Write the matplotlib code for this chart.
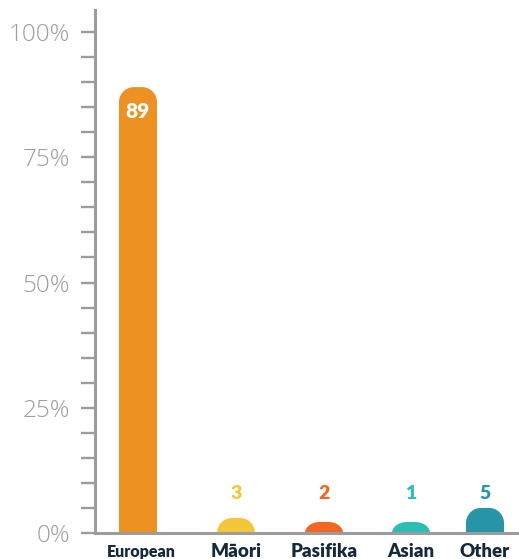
import matplotlib
matplotlib.use("Agg")
import matplotlib.pyplot as plt
from matplotlib.path import Path
from matplotlib.patches import PathPatch
import numpy as np

categories = ["European", "Māori", "Pasifika", "Asian", "Other"]
values = [89, 3, 2, 1, 5]
colors = ["#ED9122", "#F4C73B", "#F26623", "#2BBEB4", "#2795A6"]
label_sizes = [11.5, 13.5, 13.5, 13.5, 13.5]

# pixel-ish x positions of the bar centres
xpos = [138, 236, 324, 411, 485]
bar_w = 38
min_h = 2.2          # tiny values still show a little dome
corner_px = 15

W, H = 519, 559
fig = plt.figure(figsize=(W / 100, H / 100), dpi=100)
ax = fig.add_axes([95 / W, (H - 533) / H, (W - 95) / W, 523 / H])
ax.set_xlim(95, W)
ymax = 523 / 5.01
ax.set_ylim(0, ymax)
px_per_pct = 523 / ymax


def rounded_bar(x, w, h, color):
    ry = corner_px / px_per_pct
    rx = corner_px
    if h < ry:
        ry = h
    t = np.linspace(0, np.pi / 2, 24)
    left = x - w / 2
    right = x + w / 2
    verts = [(left, 0), (left, h - ry)]
    for a in t:
        verts.append((left + rx - rx * np.cos(a), h - ry + ry * np.sin(a)))
    for a in t[::-1]:
        verts.append((right - rx + rx * np.cos(a), h - ry + ry * np.sin(a)))
    verts += [(right, h - ry), (right, 0), (left, 0)]
    codes = [Path.MOVETO] + [Path.LINETO] * (len(verts) - 2) + [Path.CLOSEPOLY]
    ax.add_patch(PathPatch(Path(verts, codes), facecolor=color, edgecolor="none", zorder=2))


for x, v, c in zip(xpos, values, colors):
    rounded_bar(x, bar_w, max(v, min_h), c)

# value labels
for x, v, c in zip(xpos, values, colors):
    if v > 20:
        ax.text(x, v - 4.8, str(v), ha="center", va="center", color="white",
                fontsize=15, fontweight="heavy", family="Lato")
    else:
        ax.text(x, 7.9, str(v), ha="center", va="center", color=c,
                fontsize=14, fontweight="heavy", family="Lato")

# category labels
for x, cat, s in zip(xpos, categories, label_sizes):
    ax.text(x + (3 if cat == "European" else 0), -3.7, cat, ha="center", va="center",
            color="#14293A", fontsize=s, fontweight="heavy", family="Lato", clip_on=False)

gray = "#9C9C9E"
for side in ["top", "right"]:
    ax.spines[side].set_visible(False)
ax.spines["left"].set_color(gray)
ax.spines["bottom"].set_color(gray)
ax.spines["left"].set_linewidth(2.2)
ax.spines["bottom"].set_linewidth(2.2)

ax.set_yticks([0, 25, 50, 75, 100])
ax.set_yticklabels(["0%", "25%", "50%", "75%", "100%"])
ax.set_yticks(np.arange(0, 101, 5), minor=True)
ax.tick_params(axis="y", which="both", length=10, width=1.7, color=gray)
ax.tick_params(axis="y", which="major", labelsize=17.5, labelcolor="#9E9EA0", pad=8)
for lab in ax.get_yticklabels():
    lab.set_family("Open Sans")
    lab.set_fontweight(300)
ax.set_xticks([])

fig.savefig("out.png", dpi=100)
